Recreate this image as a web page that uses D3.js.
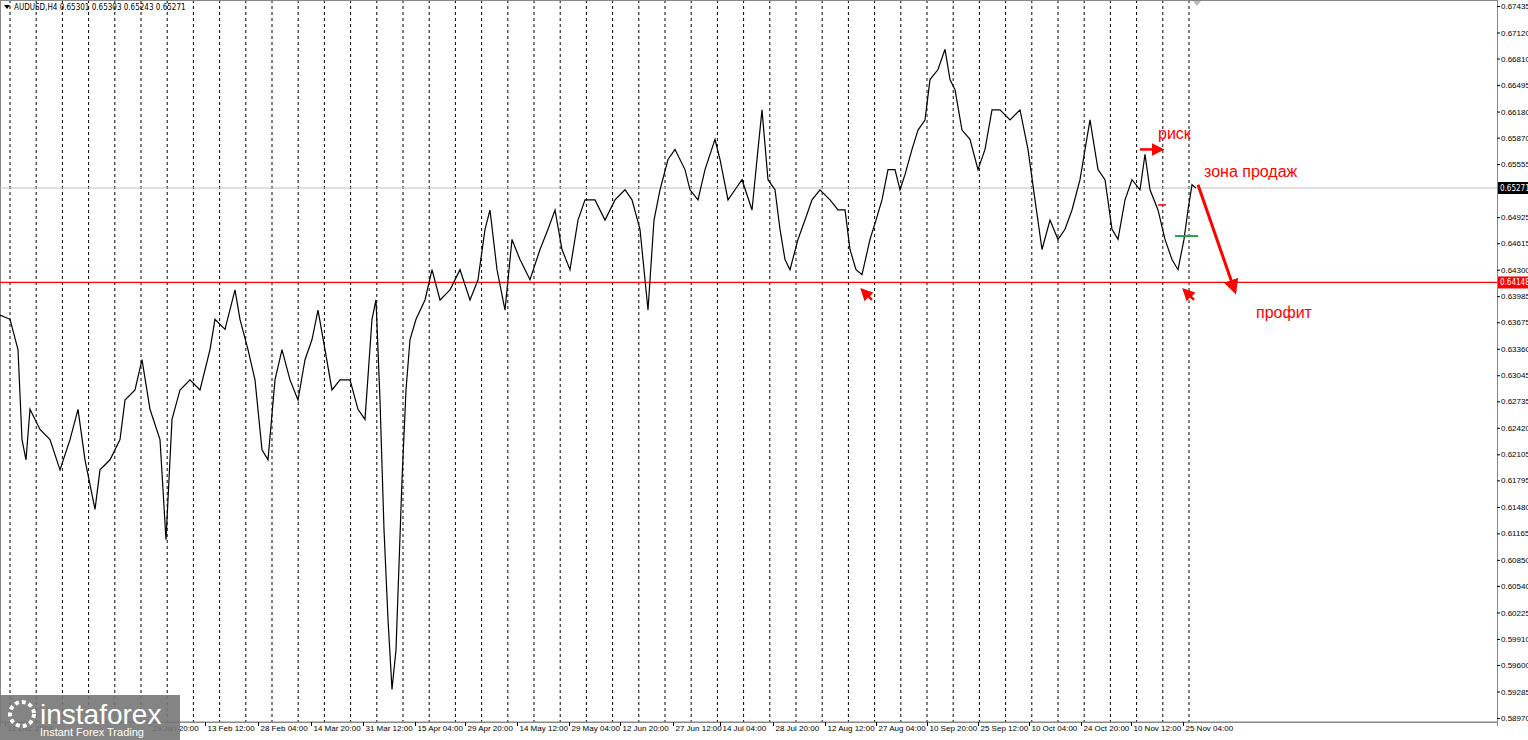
<!DOCTYPE html>
<html><head><meta charset="utf-8">
<script src="https://cdn.jsdelivr.net/npm/d3@7"></script>
<style>body{margin:0;background:#fff}svg{display:block;font-family:"DejaVu Sans Condensed","Liberation Sans Narrow","DejaVu Sans",sans-serif}</style>
</head><body><svg id="c" width="1528" height="740"></svg>
<script>
// bar position (approx. H4 bar slot) and price
const bars = [0,10,18,22,26,30,40,50,60,70,78,85,95,100,110,120,125,135,142,150,160,166,172,180,190,200,210,215,225,235,240,248,255,262,268,275,282,290,298,305,312,318,325,332,340,350,358,365,372,376,380,384,388,392,396,402,406,410,416,425,432,440,450,460,470,478,485,490,497,505,512,520,530,540,548,555,562,570,578,585,595,605,615,625,632,640,648,654,660,668,675,685,690,698,705,715,720,728,735,742,752,758,762,768,775,780,785,790,798,805,812,820,830,838,845,850,856,862,870,876,882,888,895,900,905,912,918,925,930,938,945,950,955,962,970,978,985,992,1000,1010,1020,1028,1035,1042,1050,1058,1065,1072,1080,1090,1098,1105,1112,1118,1125,1132,1140,1145,1150,1158,1165,1172,1178,1184,1188,1192,1196];
const prices = [0.6376,0.6371,0.6335,0.6228,0.6204,0.6264,0.6240,0.6228,0.6192,0.6228,0.6264,0.6204,0.6145,0.6192,0.6204,0.6228,0.6275,0.6287,0.6323,0.6264,0.6228,0.6109,0.6252,0.6287,0.6299,0.6287,0.6335,0.6371,0.6359,0.6406,0.6371,0.6335,0.6299,0.6216,0.6204,0.6299,0.6335,0.6299,0.6275,0.6323,0.6347,0.6382,0.6335,0.6287,0.6299,0.6299,0.6264,0.6252,0.6371,0.6394,0.6275,0.6121,0.6014,0.5931,0.5978,0.6180,0.6287,0.6347,0.6371,0.6394,0.6430,0.6394,0.6406,0.6430,0.6394,0.6418,0.6478,0.6501,0.6430,0.6382,0.6466,0.6442,0.6418,0.6454,0.6478,0.6501,0.6454,0.6430,0.6489,0.6513,0.6513,0.6489,0.6513,0.6525,0.6513,0.6478,0.6382,0.6489,0.6525,0.6561,0.6573,0.6549,0.6525,0.6513,0.6549,0.6585,0.6561,0.6513,0.6525,0.6537,0.6501,0.6573,0.6620,0.6537,0.6525,0.6478,0.6442,0.6430,0.6466,0.6489,0.6513,0.6525,0.6513,0.6501,0.6501,0.6454,0.6430,0.6424,0.6466,0.6489,0.6513,0.6549,0.6549,0.6525,0.6543,0.6573,0.6596,0.6608,0.6656,0.6668,0.6692,0.6656,0.6644,0.6596,0.6585,0.6549,0.6573,0.6620,0.6620,0.6608,0.6620,0.6573,0.6513,0.6454,0.6489,0.6466,0.6478,0.6501,0.6537,0.6608,0.6549,0.6537,0.6478,0.6466,0.6513,0.6537,0.6525,0.6567,0.6525,0.6501,0.6466,0.6442,0.6430,0.6466,0.6501,0.6531,0.6527];
const yTicks = [0.67435,0.67120,0.66810,0.66495,0.66180,0.65870,0.65555,0.64925,0.64615,0.64300,0.63985,0.63675,0.63360,0.63045,0.62735,0.62420,0.62105,0.61795,0.61480,0.61165,0.60850,0.60540,0.60225,0.59910,0.59600,0.59285,0.58970];
const xTickBars = [5,150,205,258,311,363,415,465,517,569,620,673,720,773,825,876,927,978,1029,1081,1131,1183];
const xTickLabels = ["12 Dec 2024","29 Jan 20:00","13 Feb 12:00","28 Feb 04:00","14 Mar 20:00","31 Mar 12:00","15 Apr 04:00","29 Apr 20:00","14 May 12:00","29 May 04:00","12 Jun 20:00","27 Jun 12:00","14 Jul 04:00","28 Jul 20:00","12 Aug 12:00","27 Aug 04:00","10 Sep 20:00","25 Sep 12:00","10 Oct 04:00","24 Oct 20:00","10 Nov 12:00","25 Nov 04:00"];
const supportLevel = 0.64148, lastPrice = 0.65271;

const svg = d3.select("#c");
const W = 1497, H = 722;
const x = d3.scaleLinear().domain([0, 1497]).range([0, W]);
const y = d3.scaleLinear().domain([0.58970, 0.67435]).range([718, 6]);

// dashed period separators
svg.append("g").selectAll("line").data(d3.range(10, 1210, 26.2)).join("line")
  .attr("x1", d => x(d)).attr("x2", d => x(d)).attr("y1", 0).attr("y2", H)
  .attr("stroke", "#000").attr("stroke-width", 1).attr("stroke-dasharray", "3,3");

// frame
svg.append("rect").attr("x", 0.5).attr("y", 0.5).attr("width", W).attr("height", H - 0.5)
  .attr("fill", "none").attr("stroke", "#888");

// price axis
const ya = svg.append("g").attr("transform", `translate(${W},0)`)
  .call(d3.axisRight(y).tickValues(yTicks).tickFormat(d3.format(".5f")).tickSize(3));
ya.select(".domain").attr("stroke", "#888");
ya.selectAll("text").style("font-size", "8px").attr("x", 4);

// time axis
const xa = svg.append("g").attr("transform", `translate(0,${H})`)
  .call(d3.axisBottom(x).tickValues(xTickBars).tickFormat((d, i) => xTickLabels[i]).tickSize(4));
xa.select(".domain").attr("stroke", "#888");
xa.selectAll("text").style("font-size", "8px").attr("text-anchor", "start").attr("x", 2).attr("y", 3);

// level lines
svg.append("line").attr("x1", 0).attr("x2", W).attr("y1", y(lastPrice)).attr("y2", y(lastPrice)).attr("stroke", "#c0c0c0");
svg.append("line").attr("x1", 0).attr("x2", W).attr("y1", y(supportLevel)).attr("y2", y(supportLevel)).attr("stroke", "red").attr("stroke-width", 1.2);
[[lastPrice, "#000"], [supportLevel, "red"]].forEach(([v, c]) => {
  svg.append("rect").attr("x", W + 1).attr("y", y(v) - 6).attr("width", 30).attr("height", 12).attr("fill", c);
  svg.append("text").attr("x", W + 3).attr("y", y(v) + 3).attr("fill", "#fff").style("font-size", "8px").text(d3.format(".5f")(v));
});

// price path
svg.append("path").datum(bars.map((b, i) => [b, prices[i]]))
  .attr("d", d3.line().x(d => x(d[0])).y(d => y(d[1])))
  .attr("fill", "none").attr("stroke", "#000").attr("stroke-width", 1.2);

// annotations
const red = "red";
svg.append("defs").append("marker").attr("id", "ah").attr("viewBox", "0 0 10 10").attr("refX", 8).attr("refY", 5)
  .attr("markerWidth", 5).attr("markerHeight", 5).attr("orient", "auto")
  .append("path").attr("d", "M0,0L10,5L0,10z").attr("fill", red);
const arrow = (x1, y1, x2, y2, w) => svg.append("line").attr("x1", x(x1)).attr("y1", y(y1)).attr("x2", x(x2)).attr("y2", y(y2))
  .attr("stroke", red).attr("stroke-width", w).attr("marker-end", "url(#ah)");
arrow(1198, 0.6531, 1235, 0.6404, 3);
arrow(1140, 0.6573, 1162, 0.6573, 2.5);
arrow(872, 0.6394, 862, 0.6406, 2.5);
arrow(1194, 0.6394, 1184, 0.6406, 2.5);
svg.append("line").attr("x1", x(1175)).attr("x2", x(1198)).attr("y1", y(0.6470)).attr("y2", y(0.6470)).attr("stroke", "#2a9d4b").attr("stroke-width", 2);
svg.append("line").attr("x1", x(1158)).attr("x2", x(1166)).attr("y1", y(0.6507)).attr("y2", y(0.6507)).attr("stroke", red).attr("stroke-width", 1.5);
const ann = (tx, ty, s) => svg.append("text").attr("x", tx).attr("y", ty).attr("fill", red)
  .style("font-size", "16px").style("font-family", "Arial,'Liberation Sans'").text(s);
ann(1158, 139, "риск");
ann(1204, 177, "зона продаж");
ann(1256, 318, "профит");

// header
svg.append("path").attr("d", "M4,5L10,5L7,9z").attr("fill", "#000");
svg.append("text").attr("x", 14).attr("y", 10).style("font-size", "8px").text("AUDUSD,H4  0.65301 0.65303 0.65243 0.65271");
svg.append("path").attr("d", "M1193,1L1201,1L1197,6z").attr("fill", "#bbb");

// logo
svg.append("rect").attr("x", 0).attr("y", 695).attr("width", 180).attr("height", 45).attr("fill", "#777").attr("opacity", 0.9);
svg.append("circle").attr("cx", 22).attr("cy", 714).attr("r", 12).attr("fill", "none").attr("stroke", "#fff").attr("stroke-width", 4).attr("stroke-dasharray", "4,3");
svg.append("text").attr("x", 40).attr("y", 724).attr("fill", "#fff").style("font-size", "28px").style("font-family", "Arial,'Liberation Sans'").text("instaforex");
svg.append("text").attr("x", 40).attr("y", 736).attr("fill", "#fff").style("font-size", "11px").style("font-family", "Arial,'Liberation Sans'").text("Instant Forex Trading");
</script></body></html>
